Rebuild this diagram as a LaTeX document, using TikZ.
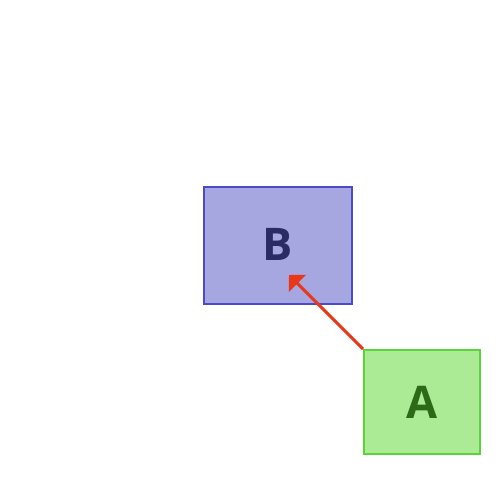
\documentclass[tikz,border=0pt]{standalone}
\usepackage{fontspec}
\setmainfont{Open Sans}
\usetikzlibrary{
    positioning,
    arrows.meta
}
\definecolor{boxBlue}{RGB}{166, 166, 224}
\definecolor{lineBlue}{RGB}{75, 75, 200}
\definecolor{textBlue}{RGB}{42, 42, 100}
\definecolor{boxGreen}{RGB}{171, 235, 150}
\definecolor{lineGreen}{RGB}{90, 212, 58}
\definecolor{textGreen}{RGB}{45, 106, 24}
\definecolor{arrowRed}{RGB}{232, 56, 26}

\begin{document}
\begin{tikzpicture}[x=1pt, y=-1pt, >={Triangle[length=12pt, width=24pt]}]
                \useasboundingbox (0,0) rectangle (500,500);
                \tikzset{box/.style={draw, line width=2pt, inner sep=0pt, font=\bfseries\fontsize{45}{45}\selectfont}}

                \node[box, fill=boxBlue, draw=lineBlue, text=textBlue, minimum width=148pt, minimum height=117pt] (B) at (278, 245) {\raisebox{2pt}{B}};
                \node[box, fill=boxGreen, draw=lineGreen, text=textGreen, minimum width=116pt, minimum height=104pt] (A) at (422, 402) {\raisebox{-4pt}{A}};

                \coordinate (tip) at (289, 275);
                \draw[->, line width=3pt, arrowRed] (A.north west) -- (tip);
            \end{tikzpicture}
\end{document}
